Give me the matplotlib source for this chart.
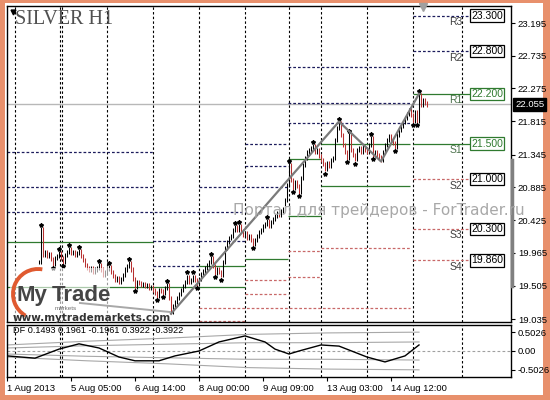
import matplotlib
matplotlib.use("Agg")
import matplotlib.pyplot as plt
from matplotlib.patches import Rectangle, Arc

plt.rcParams["font.family"] = ["Liberation Sans", "DejaVu Sans"]

# hourly closes, one per bar (None = no bar)
CLOSES = [19.63] + [None] * 15 + [
    19.84, 20.30, 19.94, 19.98, 19.92, 19.95, 19.88, 19.81, 19.89, 19.92,
    19.96, 19.89, 19.84, 19.94, 19.98, 20.02, 19.96, 19.98, 19.94, 19.96,
    19.99, 19.92, 19.87, 19.79, 19.75, 19.73, 19.75, 19.70, 19.73, 19.75,
    19.79, 19.73, 19.65, 19.70, 19.74, 19.77, 19.70, 19.64, 19.58, 19.61,
    19.56, 19.60, 19.65, 19.73, 19.78, 19.82, 19.73, 19.60, 19.49, 19.56,
    19.54, 19.51, 19.53, 19.50, 19.51, 19.47, 19.49, 19.44, 19.40, 19.36,
    19.44, 19.43, 19.40, 19.47, 19.51, 19.33, 19.13, 19.22, 19.27, 19.33,
    19.39, 19.44, 19.50, 19.56, 19.63, 19.56, 19.58, 19.63, 19.58, 19.53,
    19.60, 19.67, 19.71, 19.75, 19.79, 19.84, 19.89, 19.78, 19.68, 19.73,
    19.70, 19.65, 19.84, 20.03, 20.12, 20.17, 20.20, 20.29, 20.33, 20.29,
    20.34, 20.27, 20.22, 20.24, 20.17, 20.20, 20.15, 20.09, 20.15, 20.20,
    20.26, 20.29, 20.34, 20.37, 20.41, 20.34, 20.40, 20.44, 20.48, 20.53,
    20.50, 20.55, 20.58, 20.71, 20.92, 21.20, 20.99, 20.88, 20.96, 20.90,
    20.82, 21.02, 21.20, 21.30, 21.38, 21.41, 21.44, 21.47, 21.38, 21.41,
    21.33, 21.27, 21.21, 21.14, 21.23, 21.19, 21.27, 21.30, 21.55, 21.72,
    21.79, 21.62, 21.48, 21.38, 21.30, 21.62, 21.41, 21.34, 21.28, 21.41,
    21.44, 21.38, 21.45, 21.41, 21.38, 21.48, 21.58, 21.34, 21.38, 21.34,
    21.31, 21.27, 21.38, 21.48, 21.55, 21.61, 21.55, 21.51, 21.45, 21.62,
    21.69, 21.75, 21.80, 21.86, 21.92, 21.97, 21.90, 21.82, 21.94, 21.82,
    22.18, 22.04, 22.11, 22.07, 22.05,
]
BID = 22.055

UP_FRACTALS = [17, 26, 31, 36, 46, 51, 61, 80, 90, 93, 102, 114, 116, 130,
               141, 153, 166, 171, 182, 206]
DOWN_FRACTALS = [23, 28, 64, 75, 78, 95, 104, 107, 123, 143, 146, 159, 170,
                 174, 183, 194, 203, 205]

ZIGZAG_IDX = [82, 166, 187, 206]
ZIGZAG_PRICE = [19.11, 21.81, 21.25, 22.20]

# daily pivot segments: start bar, end bar, price, kind (n=navy, g=green, r=red)
SEG_START = [0, 0, 0, 0, 0, 73, 73, 96, 96, 96, 96, 96, 119, 119, 119, 119, 119,
             140.5, 140.5, 140.5, 140.5, 140.5, 140.5, 140.5, 157, 157, 157]
SEG_END = [73, 73, 119, 73, 119, 96, 96, 140.5, 119, 119, 201.5, 119, 140.5,
           140.5, 140.5, 140.5, 140.5, 201.5, 201.5, 201.5, 157, 157, 157, 157,
           201.5, 201.5, 201.5]
SEG_PRICE = [21.38, 20.89, 20.54, 20.12, 19.49, 20.13, 19.78, 20.89, 20.13,
             19.78, 19.19, 19.01, 21.50, 21.19, 19.88, 19.58, 19.39, 22.58,
             22.07, 21.79, 21.28, 20.48, 19.99, 19.63, 21.50, 20.91, 20.03]
SEG_KIND = ["n", "n", "n", "g", "g", "n", "n", "n", "n", "g", "r", "r", "n",
            "n", "g", "r", "r", "n", "n", "n", "g", "g", "r", "r", "g", "g", "r"]

LEVEL_NAMES = ["R3", "R2", "R1", "S1", "S2", "S3", "S4"]
LEVEL_PRICES = [23.30, 22.80, 22.20, 21.50, 21.00, 20.30, 19.86]
LEVEL_KIND = ["n", "n", "g", "g", "r", "r", "r"]
LEVEL_START, LEVEL_END = 203, 231.5

GRID_IDX = [4, 26.3, 27.4, 50, 73, 96, 119, 141, 157, 180, 203, 227.5]

Y_TICKS = [23.195, 22.735, 22.275, 21.815, 21.345, 20.885, 20.425, 19.965,
           19.505, 19.035]
X_TICKS = [0, 32, 64, 96, 128, 160, 192]
X_LABELS = ["1 Aug 2013", "5 Aug 05:00", "6 Aug 14:00", "8 Aug 00:00",
            "9 Aug 09:00", "13 Aug 03:00", "14 Aug 12:00"]

DF_IDX = [0, 14, 26, 36, 46, 56, 64, 76, 84, 96, 106, 119, 129, 134, 141, 146,
          157, 166, 180, 189, 199, 206]
DF_VAL = [-0.13, -0.19, 0.05, 0.19, 0.08, -0.16, -0.26, -0.26, -0.13, 0.0,
          0.24, 0.40, 0.24, 0.05, -0.08, 0.0, 0.16, 0.13, -0.16, -0.29, -0.13,
          0.16]
BAND_IDX = [0, 40, 80, 120, 160, 206]
BAND_INNER = [0.08, 0.14, 0.18, 0.22, 0.22, 0.24]
BAND_OUTER = [0.16, 0.26, 0.34, 0.44, 0.48, 0.50]

COLORS = {"n": "#1c1c5c", "g": "#2f7a2f", "r": "#c86868"}
STYLES = {"n": (0, (2.2, 1.6)), "g": "solid", "r": (0, (2.2, 1.6))}

fig = plt.figure(figsize=(5.5, 4.0), dpi=100, facecolor="#e8906c")
fig.patches.append(Rectangle((5 / 550, 5 / 400), 538 / 550, 392 / 400,
                             transform=fig.transFigure, facecolor="white",
                             edgecolor="none", zorder=-5))

ax = fig.add_axes([7 / 550, 1 - 322 / 400, 504 / 550, 316 / 400])
ax2 = fig.add_axes([7 / 550, 1 - 377 / 400, 504 / 550, 52 / 400])

for a in (ax, ax2):
    a.set_xlim(0, 252)
    for x in GRID_IDX:
        a.axvline(x, color="black", lw=0.8, ls=(0, (2.2, 2.0)), zorder=1)
    for s in a.spines.values():
        s.set_linewidth(1.0)

ax.set_ylim(18.994, 23.434)

# pivot segments
for x0, x1, p, k in zip(SEG_START, SEG_END, SEG_PRICE, SEG_KIND):
    ax.hlines(p, x0, x1, colors=COLORS[k], linestyles=STYLES[k], lw=0.9, zorder=2)
for name, p, k in zip(LEVEL_NAMES, LEVEL_PRICES, LEVEL_KIND):
    ax.hlines(p, LEVEL_START, LEVEL_END, colors=COLORS[k], linestyles=STYLES[k],
              lw=0.9, zorder=2)
    txt_col = "#2f7a2f" if k == "g" else "black"
    ax.text(LEVEL_END + 0.5, p, f"{p:.3f}", fontsize=7.5, color=txt_col,
            va="center", ha="left", zorder=6,
            bbox=dict(boxstyle="square,pad=0.12", fc="white", ec=txt_col, lw=0.9))
    ax.text(224.5, p - 0.09, name, fontsize=7.5, color="#404040" if k != "g" else "#4a704a",
            ha="center", va="center", zorder=6)

ax.axhline(BID, color="#b8b8b8", lw=1.0, zorder=1.5)

# bars: open taken as previous close, with a small wick each side
wick = 0.03
prev = None
for i, c in enumerate(CLOSES):
    if c is None:
        prev = None
        continue
    o = prev if prev is not None else c
    col = "black" if c >= o else "#b83030"
    ax.vlines(i, min(o, c) - wick, max(o, c) + wick, colors=col, lw=0.75, zorder=3)
    prev = c

ax.plot(UP_FRACTALS, [CLOSES[i] + wick + 0.03 for i in UP_FRACTALS], ls="none",
        marker="*", ms=3, color="black", zorder=4)
ax.plot(DOWN_FRACTALS, [CLOSES[i] - wick - 0.03 for i in DOWN_FRACTALS], ls="none",
        marker="*", ms=3, color="black", zorder=4)
ax.plot(ZIGZAG_IDX, ZIGZAG_PRICE, color="#7a7a7a", lw=1.6, zorder=5)

ax.yaxis.tick_right()
ax.set_yticks(Y_TICKS)
ax.set_yticklabels([f"{v:.3f}" for v in Y_TICKS])
ax.tick_params(axis="y", length=3, width=0.8, labelsize=6.8, pad=2)
ax.tick_params(axis="x", bottom=False, labelbottom=False)

ax.annotate(f"{BID:.3f}", xy=(1.0, BID), xycoords=ax.get_yaxis_transform(),
            xytext=(3, 0), textcoords="offset points", fontsize=6.8, color="white",
            va="center", ha="left", annotation_clip=False,
            bbox=dict(boxstyle="square,pad=0.2", fc="black", ec="black"))

# indicator panel
ax2.set_ylim(-0.69, 0.69)
ax2.axhline(0, color="#a0a0a0", lw=0.8, ls=(0, (2.5, 2)))
for band in (BAND_INNER, BAND_OUTER):
    ax2.plot(BAND_IDX, band, color="#a8a8a8", lw=0.8)
    ax2.plot(BAND_IDX, [-v for v in band], color="#a8a8a8", lw=0.8)
ax2.plot(DF_IDX, DF_VAL, color="black", lw=1.0)
ax2.text(3, 0.55, "DF 0.1493 0.1961 -0.1961 0.3922 -0.3922", fontsize=6.6,
         va="center", ha="left")
ax2.yaxis.tick_right()
ax2.set_yticks([0.5026, 0.0, -0.5026])
ax2.set_yticklabels(["0.5026", "0.00", "-0.5026"])
ax2.tick_params(axis="y", length=3, width=0.8, labelsize=6.8, pad=2)
ax2.set_xticks(X_TICKS)
ax2.set_xticklabels(X_LABELS, ha="left")
ax2.tick_params(axis="x", length=3, width=0.8, labelsize=6.8, pad=2)

# overlay in pixel coordinates for title, watermark and logo
ov = fig.add_axes([0, 0, 1, 1], zorder=10)
ov.set_xlim(0, 550)
ov.set_ylim(400, 0)
ov.axis("off")
ov.patch.set_alpha(0)

ov.text(15, 20, "SILVER H1", fontsize=14.5, family="Liberation Serif",
        color="#505050", va="center", ha="left")
ov.plot([13], [12], marker="v", ms=3.5, color="black")
ov.plot([423], [7], marker="v", ms=6, color="#a0a0a0")
ov.plot([511.5, 511.5], [160, 286], color="#808080", lw=2.5)

ov.text(233, 210, "Портал для трейдеров - ForTrader.ru", fontsize=11,
        color="#a8a8a8", va="center", ha="left", family="DejaVu Sans")

ov.add_patch(Rectangle((10, 268), 100, 54, fc="white", ec="none", alpha=0.6))
ov.add_patch(Arc((38, 294), 50, 50, theta1=120, theta2=280, color="#e05a30", lw=2.8))
ov.plot([80, 170], [303, 312], color="#a8a8a8", lw=1.4)
ov.text(17, 301, "My", fontsize=16, fontweight="bold", color="#454545",
        va="baseline", ha="left")
ov.text(52, 301, "Trade", fontsize=16, fontweight="bold", color="#454545",
        va="baseline", ha="left")
ov.text(55, 308, "markets", fontsize=4.5, color="#707070", va="center", ha="left")
ov.text(13, 318, "www.mytrademarkets.com", fontsize=7.5, fontweight="bold",
        color="#333333", va="center", ha="left", family="DejaVu Sans")

fig.savefig("out.png", dpi=100, facecolor=fig.get_facecolor())
